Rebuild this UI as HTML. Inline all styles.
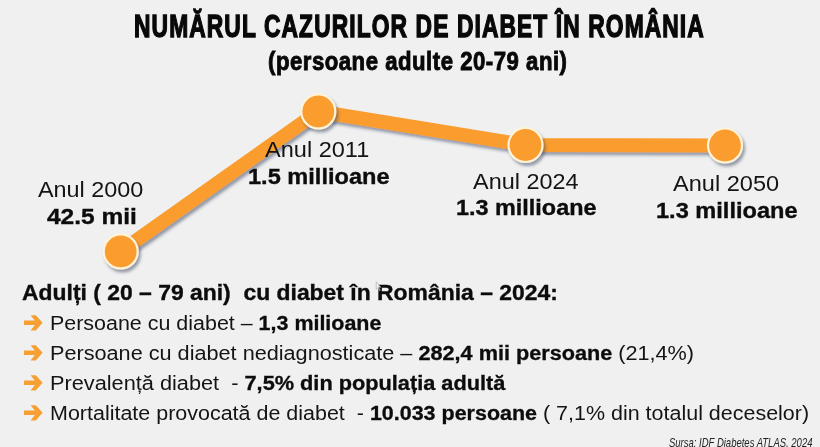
<!DOCTYPE html>
<html>
<head>
<meta charset="utf-8">
<style>
html,body{margin:0;padding:0;}
body{width:820px;height:447px;overflow:hidden;background:#f0f0f0;position:relative;font-family:"Liberation Sans",sans-serif;color:#141414;}
.abs{position:absolute;white-space:nowrap;line-height:1;transform-origin:0 0;}
.bd{font-weight:bold;}
.b{font-weight:bold;-webkit-text-stroke:0.3px #0c0c0c;color:#0c0c0c;}
svg{position:absolute;left:0;top:0;}
</style>
</head>
<body>
<div id="title" class="abs bd" style="left:133.91px;top:11.40px;font-size:31px;transform:scaleX(0.7354);-webkit-text-stroke:1.4px #080808;color:#080808;letter-spacing:1.5px;">NUMĂRUL CAZURILOR DE DIABET ÎN ROMÂNIA</div>
<div id="sub" class="abs bd" style="left:268.24px;top:48.00px;font-size:26px;transform:scaleX(0.8522);-webkit-text-stroke:0.9px #080808;color:#080808;letter-spacing:0.6px;">(persoane adulte 20-79 ani)</div>
<svg width="820" height="447" viewBox="0 0 820 447">
  <defs>
    <filter id="sh" x="-20%" y="-20%" width="140%" height="140%">
      <feGaussianBlur in="SourceAlpha" stdDeviation="1.6"/>
      <feOffset dx="2" dy="2.5" result="o"/>
      <feFlood flood-color="#3a4560" flood-opacity="0.5"/>
      <feComposite in2="o" operator="in"/>
      <feMerge><feMergeNode/><feMergeNode in="SourceGraphic"/></feMerge>
    </filter>
  </defs>
  <g id="chart">
  <polyline filter="url(#sh)" points="120.7,251.4 318.3,111.5 525.5,145 725,145.5" fill="none" stroke="#fa9d2e" stroke-width="14" stroke-linejoin="round"/>
  <circle filter="url(#sh)" cx="120.7" cy="251.4" r="17" fill="#fa9d2e" stroke="#fff3dc" stroke-width="2.2"/>
  <circle filter="url(#sh)" cx="318.3" cy="111.5" r="17" fill="#fa9d2e" stroke="#fff3dc" stroke-width="2.2"/>
  <circle filter="url(#sh)" cx="525.5" cy="145" r="17" fill="#fa9d2e" stroke="#fff3dc" stroke-width="2.2"/>
  <circle filter="url(#sh)" cx="725" cy="145.5" r="17" fill="#fa9d2e" stroke="#fff3dc" stroke-width="2.2"/>
  </g>
</svg>
<div id="yr2000" class="abs yr" style="left:37.80px;top:180.30px;font-size:21.5px;transform:scaleX(1.0875);">Anul 2000</div>
<div id="val2000" class="abs bd" style="left:46.60px;top:206.10px;font-size:22px;transform:scaleX(1.1133);-webkit-text-stroke:0.35px #0c0c0c;color:#0c0c0c;">42.5 mii</div>
<div id="yr2011" class="abs yr" style="left:264.60px;top:139.70px;font-size:21.5px;transform:scaleX(1.0947);">Anul 2011</div>
<div id="val2011" class="abs bd" style="left:248.39px;top:165.60px;font-size:22px;transform:scaleX(1.0715);-webkit-text-stroke:0.35px #0c0c0c;color:#0c0c0c;">1.5 millioane</div>
<div id="yr2024" class="abs yr" style="left:473.20px;top:171.80px;font-size:21.5px;transform:scaleX(1.0900);">Anul 2024</div>
<div id="val2024" class="abs bd" style="left:455.59px;top:197.00px;font-size:22px;transform:scaleX(1.0639);-webkit-text-stroke:0.35px #0c0c0c;color:#0c0c0c;">1.3 millioane</div>
<div id="yr2050" class="abs yr" style="left:673.20px;top:173.90px;font-size:21.5px;transform:scaleX(1.0956);">Anul 2050</div>
<div id="val2050" class="abs bd" style="left:655.66px;top:199.50px;font-size:22px;transform:scaleX(1.0715);-webkit-text-stroke:0.35px #0c0c0c;color:#0c0c0c;">1.3 millioane</div>
<div id="head" class="abs bd" style="left:22.40px;top:283.40px;font-size:21.5px;transform:scaleX(1.0652);-webkit-text-stroke:0.35px #0c0c0c;color:#0c0c0c;">Adulți ( 20 – 79 ani)&nbsp; cu diabet în România – 2024:</div>
<svg id="arrows" width="820" height="447" viewBox="0 0 820 447">
  <g fill="#f6a033">
    <path d="M24,320.5 L34.8,320.5 L30.6,315.2 L35.8,315.2 L42.6,322.8 L35.8,330.4 L30.6,330.4 L34.8,325.1 L24,325.1 Z"/>
    <path transform="translate(0 30)" d="M24,320.5 L34.8,320.5 L30.6,315.2 L35.8,315.2 L42.6,322.8 L35.8,330.4 L30.6,330.4 L34.8,325.1 L24,325.1 Z"/>
    <path transform="translate(0 60)" d="M24,320.5 L34.8,320.5 L30.6,315.2 L35.8,315.2 L42.6,322.8 L35.8,330.4 L30.6,330.4 L34.8,325.1 L24,325.1 Z"/>
    <path transform="translate(0 90)" d="M24,320.5 L34.8,320.5 L30.6,315.2 L35.8,315.2 L42.6,322.8 L35.8,330.4 L30.6,330.4 L34.8,325.1 L24,325.1 Z"/>
  </g>
  <path d="M376.2 281.8 L376.2 289.2 L378 287.7 L379.4 290.8 L380.3 290.4 L378.9 287.4 L381 287.3 Z" fill="#f6f6f6" stroke="#9a9a9a" stroke-width="0.6" opacity="0.85"/>
</svg>
<div id="l1" class="abs " style="left:49.92px;top:312.60px;font-size:20px;transform:scaleX(1.0721);">Persoane cu diabet – <span class="b">1,3 milioane</span></div>
<div id="l2" class="abs " style="left:49.89px;top:343.10px;font-size:20px;transform:scaleX(1.0828);">Persoane cu diabet nediagnosticate – <span class="b">282,4 mii persoane</span> (21,4%)</div>
<div id="l3" class="abs " style="left:49.88px;top:372.60px;font-size:20px;transform:scaleX(1.0866);">Prevalență diabet&nbsp; - <span class="b">7,5% din populația adultă</span></div>
<div id="l4" class="abs " style="left:49.91px;top:402.60px;font-size:20px;transform:scaleX(1.0736);">Mortalitate provocată de diabet&nbsp; - <span class="b">10.033 persoane</span> ( 7,1% din totalul deceselor)</div>
<div id="src" class="abs " style="left:669.20px;top:436.20px;font-size:13px;transform:scaleX(0.7309);font-style:italic;color:#222;">Sursa: IDF Diabetes ATLAS, 2024</div>
</body>
</html>
